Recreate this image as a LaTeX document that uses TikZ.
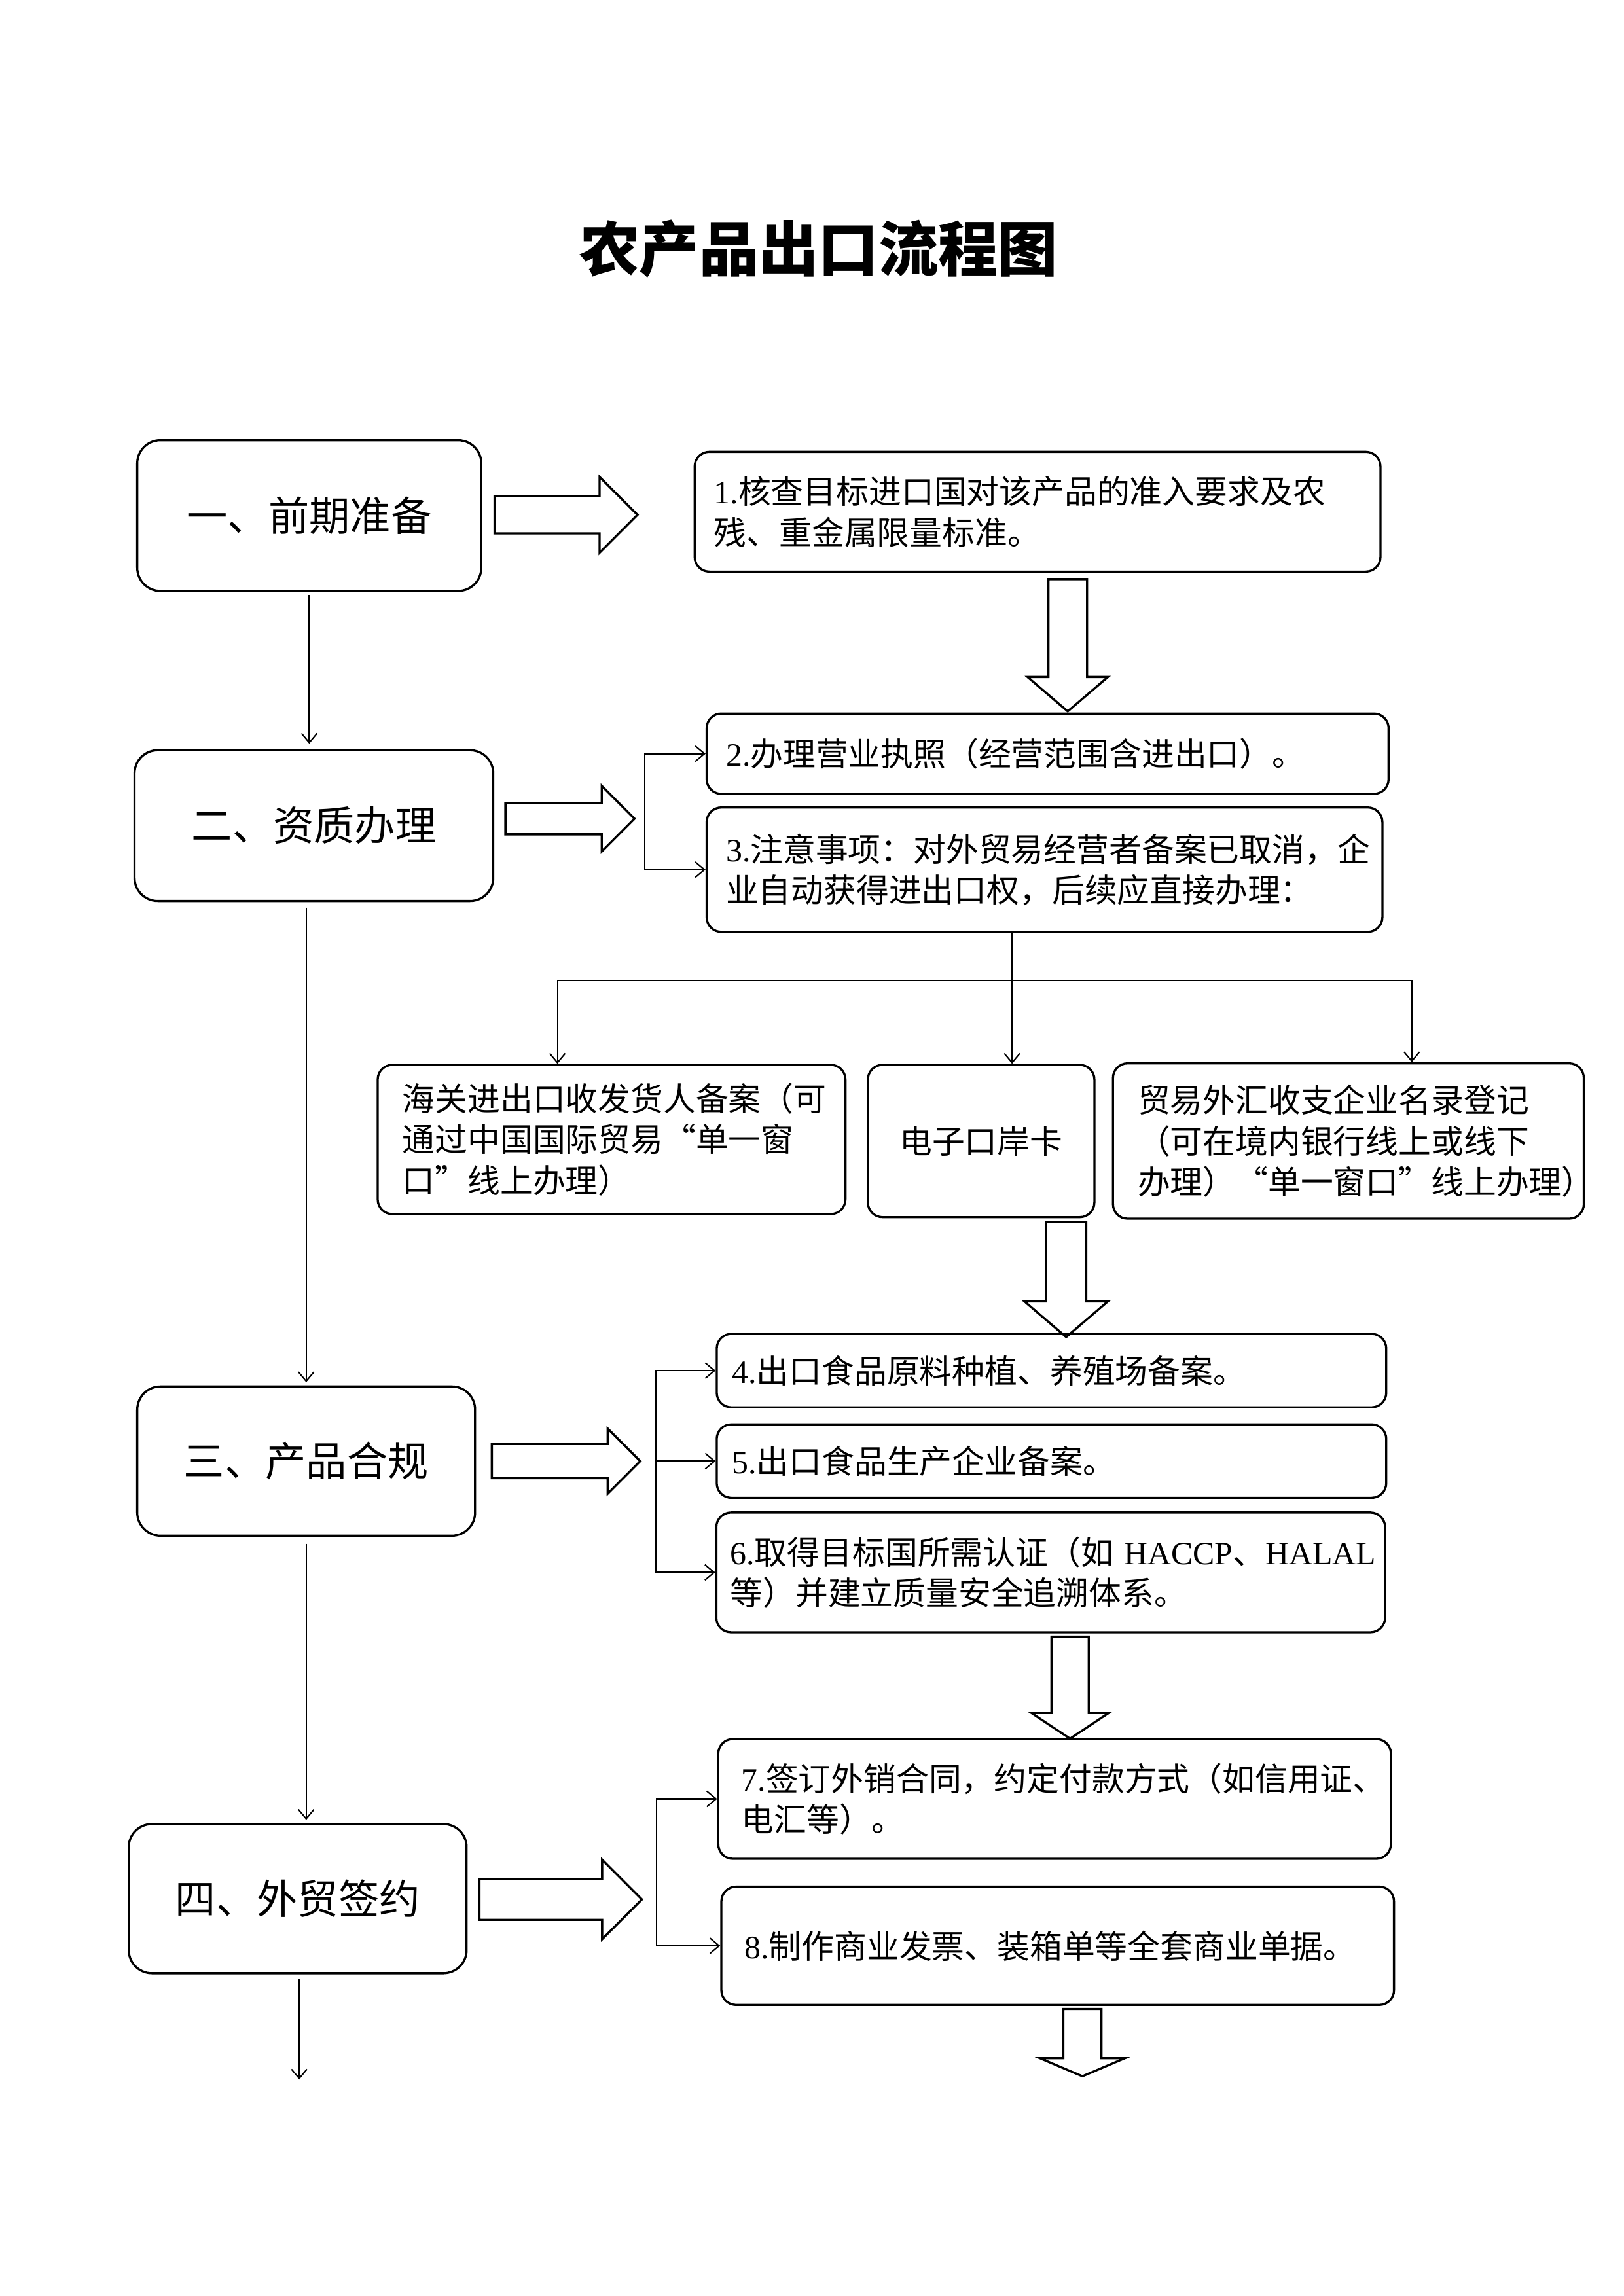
\documentclass[tikz,border=0pt]{standalone}
\usepackage{fontspec}
\setmainfont{Liberation Serif}
\newfontfamily\cjk{Noto Sans CJK SC}
\usepackage{tikz}
\usetikzlibrary{arrows.meta,shapes.arrows}
\tikzset{>={Straight Barb[length=1.2mm,width=2mm]}}

\begin{document}
\begin{tikzpicture}[line width=0.5pt]
    \tikzset{%
      stage/.style={draw, line width=0.8pt, rounded corners=0.3cm, font=\cjk\fontsize{15}{18}\selectfont},
      stepbox/.style={draw, line width=0.8pt, rounded corners=0.19cm, align=left, inner xsep=0.25cm, font=\cjk\fontsize{12}{15}\selectfont},
      fatarrow/.style={draw, line width=0.8pt, single arrow, inner xsep=0pt}
      }
    \useasboundingbox (0,0) rectangle (21,29.7);

    \node [font=\cjk\bfseries\fontsize{22}{26}\selectfont] (Ytitel) at (10.59, 26.48) {农产品出口流程图};

    % Stufen links
    \node [stage, minimum width=4.45cm, minimum height=1.95cm] (Yqianqi) at (4.00, 23.03) {一、前期准备};
    \node [stage, minimum width=4.64cm, minimum height=1.95cm] (Yzizhi) at (4.06, 19.02) {二、资质办理};
    \node [stage, minimum width=4.37cm, minimum height=1.93cm] (Ychanpin) at (3.96, 10.80) {三、产品合规};
    \node [stage, minimum width=4.37cm, minimum height=1.93cm] (Yqianyue) at (3.85, 5.14) {四、外贸签约};
    \coordinate (Yende) at (3.87, 2.80);

    \draw [->, shorten <=0.04cm, shorten >=0.07cm] (Yqianqi.south) -- (Yqianqi.south |- Yzizhi.north);
    \draw [->, shorten <=0.07cm, shorten >=0.04cm] (Ychanpin.north |- Yzizhi.south) -- (Ychanpin.north);
    \draw [->, shorten <=0.09cm, shorten >=0.04cm] (Ychanpin.south) -- (Ychanpin.south |- Yqianyue.north);
    \draw [->, shorten <=0.06cm] (Yqianyue.south -| Yende) -- (Yende);

    % Schritte rechts
    \node [stepbox, text width=8.37cm, minimum height=1.55cm] (Y1) at (13.42, 23.08) {\textrm{1.}核查目标进口国对该产品的准入要求及农\\残、重金属限量标准。};
    \node [stepbox, text width=8.32cm, minimum height=1.04cm] (Y2) at (13.55, 19.95) {\textrm{2.}办理营业执照（经营范围含进出口）。};
    \node [stepbox, text width=8.24cm, minimum height=1.61cm] (Y3) at (13.51, 18.45) {\textrm{3.}注意事项：对外贸易经营者备案已取消，企\\业自动获得进出口权，后续应直接办理：};

    \node [stepbox, inner xsep=0.32cm, text width=5.41cm, minimum height=1.93cm] (Yhaiguan) at (7.91, 14.96) {海关进出口收发货人备案（可\\通过中国国际贸易“单一窗\\口”线上办理）};
    \node [stepbox, align=center, text width=2.43cm, minimum height=1.97cm] (Ykouan) at (12.69, 14.94) {电子口岸卡};
    \node [stepbox, inner xsep=0.32cm, text width=5.45cm, minimum height=2.01cm] (Ywaihui) at (17.44, 14.94) {贸易外汇收支企业名录登记\\（可在境内银行线上或线下\\办理）“单一窗口”线上办理）};

    \node [stepbox, inner xsep=0.2cm, text width=8.26cm, minimum height=0.95cm] (Y4) at (13.60, 11.97) {\textrm{4.}出口食品原料种植、养殖场备案。};
    \node [stepbox, inner xsep=0.2cm, text width=8.26cm, minimum height=0.95cm] (Y5) at (13.60, 10.80) {\textrm{5.}出口食品生产企业备案。};
    \node [stepbox, inner xsep=0.18cm, text width=8.29cm, minimum height=1.55cm] (Y6) at (13.59, 9.36) {\textrm{6.}取得目标国所需认证（如~\textrm{HACCP}、\textrm{HALAL}\\等）并建立质量安全追溯体系。};

    \node [stepbox, inner xsep=0.3cm, text width=8.10cm, minimum height=1.55cm] (Y7) at (13.64, 6.43) {\textrm{7.}签订外销合同，约定付款方式（如信用证、\\电汇等）。};
    \node [stepbox, inner xsep=0.3cm, text width=8.10cm, minimum height=1.53cm] (Y8) at (13.68, 4.53) {\textrm{8.}制作商业发票、装箱单等全套商业单据。};

    % dicke Pfeile
    \node [fatarrow, minimum height=1.85cm, inner ysep=0.227cm, single arrow head extend=0.25cm] (YR1) at (7.20, 23.04) {};
    \node [fatarrow, minimum height=1.67cm, inner ysep=0.19cm, single arrow head extend=0.22cm] (YR2) at (7.27, 19.11) {};
    \node [fatarrow, minimum height=1.92cm, inner ysep=0.208cm, single arrow head extend=0.20cm] (YR3) at (7.21, 10.80) {};
    \node [fatarrow, minimum height=2.10cm, inner ysep=0.25cm, single arrow head extend=0.25cm] (YR4) at (7.12, 5.13) {};

    \node [fatarrow, rotate=-90, single arrow tip angle=99, minimum height=1.71cm, inner ysep=0.236cm, single arrow head extend=0.27cm] (YD1) at (13.81, 21.46) {};
    \node [fatarrow, rotate=-90, single arrow tip angle=99, minimum height=1.49cm, inner ysep=0.245cm, single arrow head extend=0.28cm] (YD2) at (13.79, 13.26) {};
    \node [fatarrow, rotate=-90, single arrow tip angle=113, minimum height=1.32cm, inner ysep=0.227cm, single arrow head extend=0.26cm] (YD3) at (13.84, 7.95) {};
    \node [fatarrow, rotate=-90, single arrow tip angle=134, minimum height=0.87cm, inner ysep=0.233cm, single arrow head extend=0.30cm] (YD4) at (14.00, 3.33) {};

    % Verzweigungen
    \coordinate (Kzz) at (8.34, 19.0);
    \coordinate (Kcp) at (8.48, 10.8);
    \coordinate (Kqy) at (8.49, 5.5);
    \draw [<->] (Y2.west) -- (Y2.west -| Kzz) -- (Y3.west -| Kzz) -- (Y3.west);
    \draw [<->] (Y4.west) -- (Y4.west -| Kcp) -- (Y6.west -| Kcp) -- (Y6.west);
    \draw [->] (Y5.west -| Kcp) -- (Y5.west);
    \draw [<->] (Y7.west) -- (Y7.west -| Kqy) -- (Y8.west -| Kqy) -- (Y8.west);

    \coordinate (Fork) at (13.09, 17.02);
    \coordinate (Fl) at (7.21, 17.02);
    \coordinate (Fr) at (18.26, 17.02);
    \draw (Y3.south -| Fork) -- (Fork);
    \draw (Fl) -- (Fr);
    \draw [->] (Fl) -- (Fl |- Yhaiguan.north);
    \draw [->] (Fork) -- (Fork |- Ykouan.north);
    \draw [->] (Fr) -- (Fr |- Ywaihui.north);

  \end{tikzpicture}
\end{document}
